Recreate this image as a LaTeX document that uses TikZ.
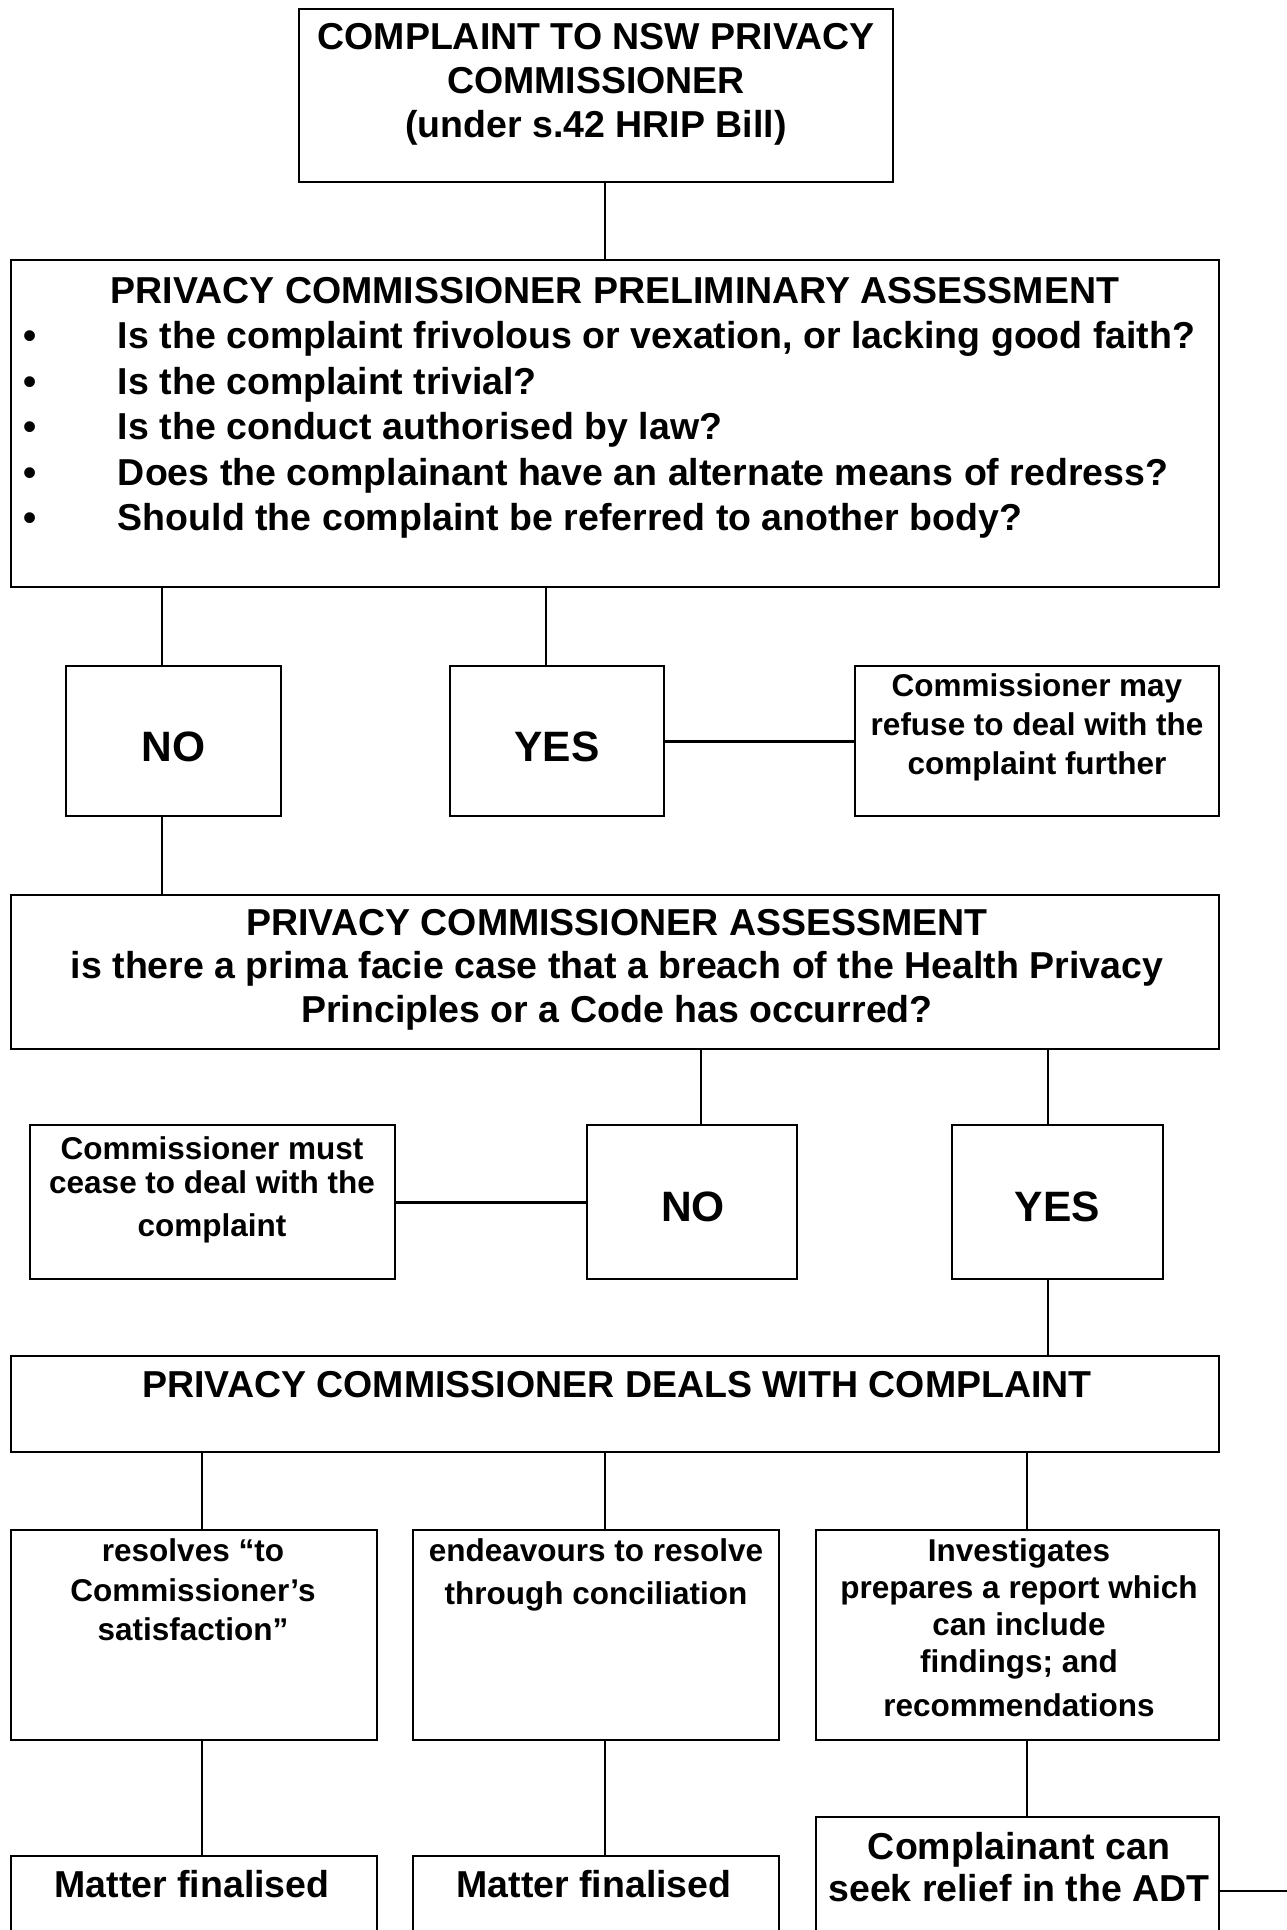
\documentclass[tikz,border=0pt]{standalone}
\usepackage{fontspec}
\setmainfont{Liberation Sans}
\begin{document}
\begin{tikzpicture}[x=1pt,y=-1pt,
  box/.style={draw, line width=2.5pt, rectangle, inner sep=0pt, outer sep=0pt},
  conn/.style={line width=2pt},
  link/.style={line width=3pt},
  txt/.style={inner sep=0pt, outer sep=0pt, align=center, anchor=north},
  big/.style={txt, font=\bfseries\fontsize{37.5}{44}\selectfont},
  small/.style={txt, font=\bfseries\fontsize{31.5}{39}\selectfont},
  answer/.style={inner sep=0pt, anchor=base, font=\bfseries\fontsize{42.5}{48}\selectfont}
]
\useasboundingbox (0,0) rectangle (1287,1930);
\clip (0,0) rectangle (1287,1930);

% boxes
\node[box, minimum width=594pt, minimum height=173pt] (top) at (596,95.5) {};
\node[box, minimum width=1208pt, minimum height=327pt] (prelim) at (615,423.5) {};
\node[box, minimum width=215pt, minimum height=150pt] (no1) at (173.5,741) {};
\node[box, minimum width=214pt, minimum height=150pt] (yes1) at (557,741) {};
\node[box, minimum width=364pt, minimum height=150pt] (refuse) at (1037,741) {};
\node[box, minimum width=1208pt, minimum height=154pt] (assess) at (615,972) {};
\node[box, minimum width=365pt, minimum height=154pt] (cease) at (212.5,1202) {};
\node[box, minimum width=210pt, minimum height=154pt] (no2) at (692,1202) {};
\node[box, minimum width=211pt, minimum height=154pt] (yes2) at (1057.5,1202) {};
\node[box, minimum width=1208pt, minimum height=96pt] (deals) at (615,1404) {};
\node[box, minimum width=366pt, minimum height=210pt] (resolve) at (194,1635) {};
\node[box, minimum width=366pt, minimum height=210pt] (concil) at (596,1635) {};
\node[box, minimum width=403pt, minimum height=210pt] (invest) at (1017.5,1635) {};
\node[box, minimum width=366pt, minimum height=154pt] (fin1) at (194,1933) {};
\node[box, minimum width=366pt, minimum height=154pt] (fin2) at (596,1933) {};
\node[box, minimum width=403pt, minimum height=193pt] (adt) at (1017.5,1913.5) {};

% texts
\node[big] (topt) at (596,23) {COMPLAINT TO NSW PRIVACY\\COMMISSIONER\\(under s.42 HRIP Bill)};
\node[big] (prelimt) at (615,277) {PRIVACY COMMISSIONER PRELIMINARY ASSESSMENT};
\node[big, font=\bfseries\fontsize{37.5}{45.5}\selectfont, align=left, anchor=north west] (prelimlist) at (23.5,321.5)
  {\makebox[94.5pt][l]{•}Is the complaint frivolous or vexation, or lacking good faith?\\
   \makebox[94.5pt][l]{•}Is the complaint trivial?\\
   \makebox[94.5pt][l]{•}Is the conduct authorised by law?\\
   \makebox[94.5pt][l]{•}Does the complainant have an alternate means of redress?\\
   \makebox[94.5pt][l]{•}Should the complaint be referred to another body?};
\node[answer] (no1t) at (173.5,761) {NO};
\node[answer] (yes1t) at (557,761) {YES};
\node[small] (refuset) at (1037,674) {Commissioner may\\refuse to deal with the\\complaint further};
\node[big, font=\bfseries\fontsize{37.5}{43.5}\selectfont] (assesst) at (617,909)
  {PRIVACY COMMISSIONER ASSESSMENT\\is there a prima facie case that a breach of the Health Privacy\\Principles or a Code has occurred?};
\node[small, font=\bfseries\fontsize{31.5}{34}\selectfont] (ceaset) at (212,1137)
  {Commissioner must\\cease to deal with the\\[9pt]complaint};
\node[answer] (no2t) at (693,1221) {NO};
\node[answer] (yes2t) at (1057.5,1221) {YES};
\node[big] (dealst) at (617,1371.5) {PRIVACY COMMISSIONER DEALS WITH COMPLAINT};
\node[small, font=\bfseries\fontsize{31.5}{39.5}\selectfont] (resolvet) at (193,1539)
  {resolves “to\\Commissioner’s\\satisfaction”};
\node[small, font=\bfseries\fontsize{31.5}{43}\selectfont] (concilt) at (596,1539)
  {endeavours to resolve\\through conciliation};
\node[small, font=\bfseries\fontsize{31.5}{37}\selectfont] (investt) at (1019,1539)
  {Investigates\\prepares a report which\\can include\\findings; and\\[7pt]recommendations};
\node[big] (fin1t) at (192,1870.5) {Matter finalised};
\node[big] (fin2t) at (594,1870.5) {Matter finalised};
\node[big, font=\bfseries\fontsize{37.5}{42}\selectfont] (adtt) at (1019,1832)
  {Complainant can\\seek relief in the ADT};

% connector positions
\coordinate (x1) at (605,0);
\coordinate (x2) at (162,0);
\coordinate (x3) at (546,0);
\coordinate (x4) at (701,0);
\coordinate (x5) at (1048,0);
\coordinate (x6) at (202,0);
\coordinate (x7) at (605,0);
\coordinate (x8) at (1027,0);
\coordinate (adtend) at (1287,1891);

% connectors
\draw[conn] (top.south -| x1) -- (prelim.north -| x1);
\draw[conn] (prelim.south -| x2) -- (no1.north -| x2);
\draw[conn] (prelim.south -| x3) -- (yes1.north -| x3);
\draw[link] (yes1.east) -- (refuse.west);
\draw[conn] (no1.south -| x2) -- (assess.north -| x2);
\draw[conn] (assess.south -| x4) -- (no2.north -| x4);
\draw[conn] (assess.south -| x5) -- (yes2.north -| x5);
\draw[link] (cease.east) -- (no2.west);
\draw[conn] (yes2.south -| x5) -- (deals.north -| x5);
\draw[conn] (deals.south -| x6) -- (resolve.north -| x6);
\draw[conn] (deals.south -| x7) -- (concil.north -| x7);
\draw[conn] (deals.south -| x8) -- (invest.north -| x8);
\draw[conn] (resolve.south -| x6) -- (fin1.north -| x6);
\draw[conn] (concil.south -| x7) -- (fin2.north -| x7);
\draw[conn] (invest.south -| x8) -- (adt.north -| x8);
\draw[conn] (adt.east |- adtend) -- (adtend);
\end{tikzpicture}
\end{document}
